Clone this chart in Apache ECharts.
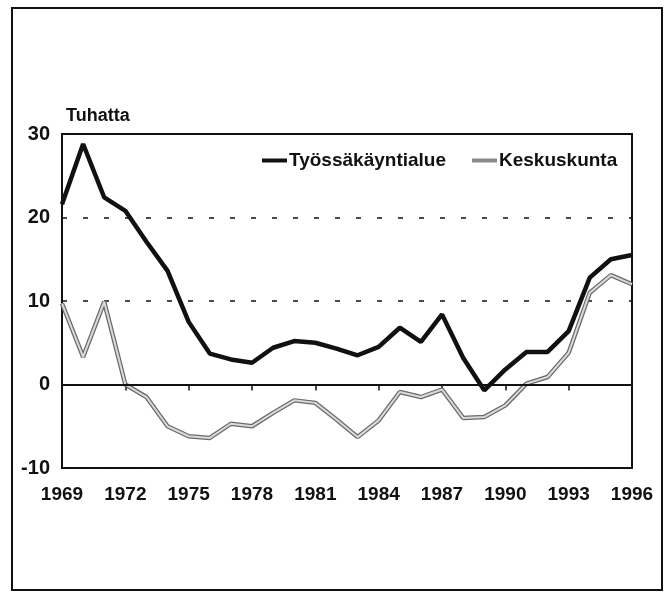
<!DOCTYPE html>
<html>
<head>
<meta charset="utf-8">
<script src="https://cdn.jsdelivr.net/npm/echarts@6/dist/echarts.min.js"></script>
<style>
html, body { margin: 0; padding: 0; background: #fff; }
#chart { width: 666px; height: 595px; }
</style>
</head>
<body>
<div id="chart"></div>
<script>
var dom = document.getElementById("chart");
var myChart = echarts.init(dom);

// Data (thousands)
var years = ['1969', '1970', '1971', '1972', '1973', '1974', '1975', '1976', '1977', '1978',
    '1979', '1980', '1981', '1982', '1983', '1984', '1985', '1986', '1987', '1988',
    '1989', '1990', '1991', '1992', '1993', '1994', '1995', '1996'];
var tyossakayntialue = [21.6, 28.8, 22.4, 20.8, 17.1, 13.6, 7.5, 3.7, 3.0, 2.6,
    4.4, 5.2, 5.0, 4.3, 3.5, 4.5, 6.8, 5.1, 8.4, 3.2,
    -0.7, 1.8, 3.9, 3.9, 6.4, 12.8, 15.0, 15.5];
var keskuskunta = [9.7, 3.3, 9.9, 0.0, -1.5, -5.0, -6.2, -6.4, -4.7, -5.0,
    -3.4, -1.9, -2.2, -4.2, -6.3, -4.3, -0.9, -1.5, -0.6, -4.0,
    -3.9, -2.5, 0.1, 0.9, 3.8, 11.0, 13.1, 12.0];
var yTicks = [-10, 0, 10, 20, 30];

var font = "'Liberation Sans Narrow', 'Liberation Sans', Arial, sans-serif";

option = {
    backgroundColor: '#fff',
    animation: false,
    graphic: [{
        type: 'rect',
        shape: {x: 12, y: 8, width: 650, height: 582},
        style: {fill: 'none', stroke: '#111', lineWidth: 2}
    }],
    grid: {
        left: 62, right: 34, top: 134, bottom: 127,
        show: true,
        borderColor: '#111',
        borderWidth: 2,
        containLabel: false
    },
    legend: {
        left: 257,
        top: 146,
        itemWidth: 25,
        itemHeight: 4,
        itemGap: 26,
        icon: 'rect',
        data: [
            {name: 'Työssäkäyntialue', itemStyle: {color: '#111'}},
            {name: 'Keskuskunta', itemStyle: {color: '#8a8a8a'}}
        ],
        textStyle: {
            fontFamily: font,
            fontSize: 19,
            fontWeight: 'bold',
            color: '#111',
            padding: [0, 0, 0, -3]
        }
    },
    xAxis: {
        type: 'category',
        data: years,
        boundaryGap: false,
        axisLine: {lineStyle: {color: '#111', width: 2}},
        axisTick: {show: true, interval: 2, length: 6, lineStyle: {color: '#111', width: 1.5}},
        axisLabel: {
            interval: 2,
            margin: 17,
            fontFamily: font,
            fontSize: 19,
            fontWeight: 'bold',
            color: '#111'
        },
        splitLine: {show: false}
    },
    yAxis: {
        type: 'value',
        min: yTicks[0],
        max: yTicks[yTicks.length - 1],
        interval: 10,
        name: 'Tuhatta',
        nameLocation: 'end',
        nameGap: 9,
        nameTextStyle: {
            fontFamily: font,
            fontSize: 18,
            fontWeight: 'bold',
            color: '#111',
            align: 'left',
            verticalAlign: 'bottom',
            padding: [0, 0, 0, 4]
        },
        axisLine: {show: true, lineStyle: {color: '#111', width: 2}},
        axisTick: {show: false},
        axisLabel: {
            margin: 12,
            fontFamily: font,
            fontSize: 20,
            fontWeight: 'bold',
            color: '#111'
        },
        splitLine: {
            show: true,
            lineStyle: {color: '#111', width: 1.5, type: [5, 16]}
        }
    },
    series: [{
        name: 'Keskuskunta',
        type: 'line',
        data: keskuskunta,
        symbol: 'none',
        z: 2,
        lineStyle: {color: '#6a6a6a', width: 4.5},
        itemStyle: {color: '#8a8a8a'},
        markLine: {
            silent: true,
            symbol: 'none',
            label: {show: false},
            lineStyle: {color: '#111', width: 2, type: 'solid'},
            data: [{yAxis: 0}]
        }
    }, {
        name: 'Keskuskunta-sisä',
        type: 'line',
        data: keskuskunta,
        symbol: 'none',
        z: 3,
        lineStyle: {color: '#dadada', width: 2}
    }, {
        name: 'Työssäkäyntialue',
        type: 'line',
        data: tyossakayntialue,
        symbol: 'none',
        z: 4,
        lineStyle: {color: '#111', width: 4.5},
        itemStyle: {color: '#111'}
    }]
};

if (option && typeof option === "object") {
    myChart.setOption(option, true);
}
</script>
</body>
</html>
